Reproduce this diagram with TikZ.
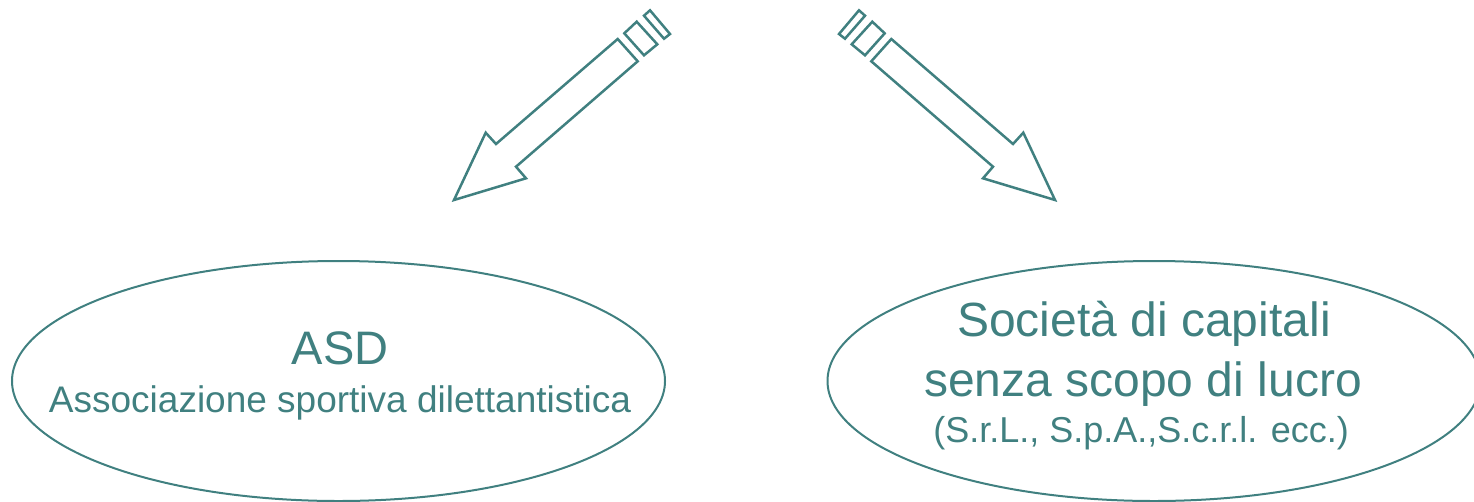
\documentclass[tikz,border=0pt]{standalone}
\usepackage{fontspec}
\setmainfont{Liberation Sans}
\usepackage{xcolor}
\usepackage{tikz}
\usetikzlibrary{shapes,positioning,calc}
\definecolor{teal}{RGB}{64,128,128}

\begin{document}
\begin{tikzpicture}[x=1pt, y=-1pt,
    form/.style={draw=teal, line width=2pt, ellipse, minimum width=653pt, minimum height=240pt, inner sep=0pt},
    hollow/.style={draw=teal, line width=2.5pt, line join=miter},
    label/.style={text=teal, inner sep=0pt, anchor=base}]
    \useasboundingbox (0,0) rectangle (1474,501);

    % Two hollow arrows, the right one mirrored
    \foreach \s/\o in {1/0,-1/1509} {
        \begin{scope}[shift={(\o,0)}, xscale=\s]
            \draw[hollow] (454,200) -- (485.7,132.7) -- (496,144) -- (617.7,39)
                -- (637.7,61.3) -- (516,166.7) -- (526,178.3) -- cycle;
            \draw[hollow] (624.3,33.3) -- (636.7,21.7) -- (657.3,44.3) -- (644,55.3) -- cycle;
            \draw[hollow] (644,15.7) -- (650,10.3) -- (670,34) -- (664,38.7) -- cycle;
        \end{scope}
    }

    % ASD
    \node[form] (asd) at (338.5,381) {};
    \node[label, font=\fontsize{47}{56}\selectfont] (asdname) at (340,364) {ASD};
    \node[label, font=\fontsize{37}{44}\selectfont] (asdlong) at (340,412) {Associazione sportiva dilettantistica};

    % Società
    \node[form] (soc) at (1154,381) {};
    \node[label, font=\fontsize{48}{58}\selectfont] (socname) at (1144,336) {Società di capitali};
    \node[label, font=\fontsize{48}{58}\selectfont] (soclucro) at (1143,396) {senza scopo di lucro};
    \node[label, font=\fontsize{36}{43}\selectfont] (soctypes) at (1141,442) {(S.r.L., S.p.A.,S.c.r.l. ecc.)};
\end{tikzpicture}
\end{document}
